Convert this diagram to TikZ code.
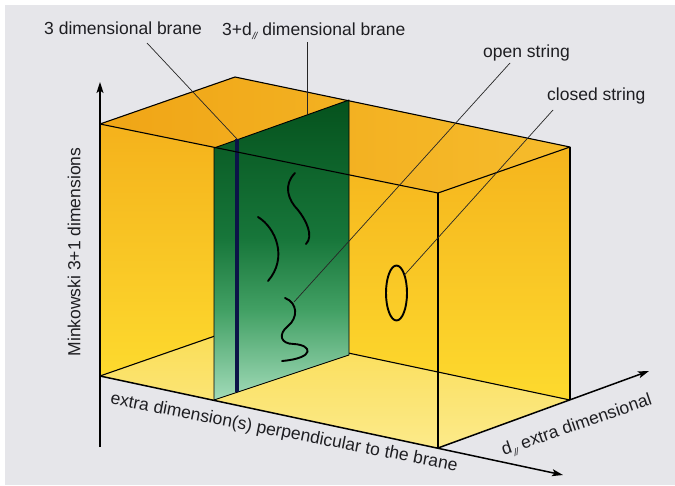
\documentclass[tikz,border=0pt]{standalone}
\usepackage{fontspec}
\setmainfont{Liberation Sans}
\usetikzlibrary{arrows.meta}
\definecolor{bg}{HTML}{E6E6EA}
\definecolor{txt}{HTML}{1E1E22}
\definecolor{wallTop}{HTML}{F3AA18}
\definecolor{wallBot}{HTML}{FDDA2E}
\definecolor{floorA}{HTML}{FADD55}
\definecolor{floorB}{HTML}{FCEA8A}
\definecolor{lidA}{HTML}{F0A516}
\definecolor{lidB}{HTML}{F6BC2C}
\definecolor{braneTop}{HTML}{05521D}
\definecolor{braneMid}{HTML}{17763A}
\definecolor{braneLow}{HTML}{42A064}
\definecolor{braneBot}{HTML}{A2DBB9}
\definecolor{navy}{HTML}{0B1448}
\pgfdeclareverticalshading{braneshade}{100bp}{color(0bp)=(braneBot); color(25bp)=(braneBot); color(40bp)=(braneLow); color(52bp)=(braneMid); color(75bp)=(braneTop); color(100bp)=(braneTop)}
\newcommand{\dpar}{d\kern0.03em\raisebox{-0.45ex}{\fontsize{10}{10}\selectfont\itshape /\kern-0.05em/}}
\begin{document}
\begin{tikzpicture}[x=1pt,y=-1pt,
  lbl/.style={font=\fontsize{17.5}{20}\selectfont, text=txt, inner sep=0pt},
  edge/.style={draw=black, line width=1.1pt, line join=round},
  leader/.style={draw=black!85, line width=0.7pt},
  axis/.style={draw=black, line width=1.5pt, -{Stealth[length=11pt,width=7pt,inset=2.5pt]}},
  strg/.style={draw=black, line width=1.9pt, line cap=round}]
\useasboundingbox (0,0) rectangle (675,485);
\fill[white] (0,0) rectangle (675,485);
\fill[bg] (5,5) rectangle (675,485);

% box corners
\coordinate (FTL) at (100,124);
\coordinate (BTL) at (235,77);
\coordinate (BTR) at (570,147);
\coordinate (FTR) at (438,193);
\coordinate (FBL) at (100,376);
\coordinate (BBL) at (235,329);
\coordinate (BBR) at (570,400);
\coordinate (FBR) at (438,448);
% brane corners
\coordinate (PTF) at (214,148);
\coordinate (PTB) at (349,100);
\coordinate (PBB) at (349,355);
\coordinate (PBF) at (214,400);

% walls
\shade[top color=wallTop, bottom color=wallBot] (FTL) -- (BTL) -- (BBL) -- (FBL) -- cycle;
\shade[top color=wallTop, bottom color=wallBot] (BTL) -- (BTR) -- (BBR) -- (BBL) -- cycle;
\shade[top color=floorA, bottom color=floorB] (FBL) -- (BBL) -- (BBR) -- (FBR) -- cycle;
\shade[left color=lidA, right color=lidB] (FTL) -- (BTL) -- (BTR) -- (FTR) -- cycle;

% back edges
\draw[edge] (FBL) -- (BBL);
\draw[edge] (BBL) -- (BBR);

% brane
\shade[shading=braneshade] (PTF) -- (PTB) -- (PBB) -- (PBF) -- cycle;
\draw[edge, line width=0.9pt] (PTF) -- (PTB) -- (PBB) -- (PBF) -- cycle;

% strings on the brane
\draw[strg] (295,173) .. controls (283,185) and (288,200) .. (298,210)
            .. controls (306,220) and (314,236) .. (306,244);
\draw[strg] (258,217) .. controls (276,228) and (288,258) .. (268,281);
\draw[strg] (285,298) .. controls (298,303) and (298,318) .. (288,326)
            .. controls (278,334) and (280,344) .. (294,344)
            .. controls (312,345) and (316,358) .. (282,361);
% closed string
\draw[strg] (396.5,293) ellipse [x radius=10.5, y radius=27.5];

% 3 dimensional brane line
\coordinate (L3t) at (237,139);
\coordinate (L3b) at (237,392);
\draw[navy, line width=3.2pt] (L3t) -- (L3b);

% front edges
\draw[edge] (FTL) -- (BTL) -- (BTR) -- (FTR) -- cycle;
\draw[edge] (FTR) -- (FBR);
\draw[edge] (BTR) -- (BBR);

% axes
\coordinate (Vb) at (100,447);
\coordinate (Vt) at (100,82);
\coordinate (Ht) at (563,475);
\coordinate (Dt) at (649,371);
\draw[axis] (Vb) -- (Vt);
\draw[axis] (FBL) -- (Ht);
\draw[axis] (FBR) -- (Dt);

% labels
\node[lbl, anchor=base] (t3) at (123,34.5) {3 dimensional brane};
\node[lbl, anchor=base west] (t3d) at (222,35) {3+\dpar\ dimensional brane};
\node[lbl, anchor=base west] (topen) at (483,57.5) {open string};
\node[lbl, anchor=base west] (tclosed) at (547,100) {closed string};
\node[lbl, rotate=90] (tmink) at (74,252) {Minkowski 3+1 dimensions};
\node[lbl, rotate=-11] (tperp) at (284,433) {extra dimension(s) perpendicular to the brane};
\node[lbl, rotate=19] (tdpar) at (577,426) {\dpar\ extra dimensional};

% leaders
\coordinate (a3) at (147,43);
\coordinate (a3d) at (307,42);
\coordinate (e3d) at (307,114);
\coordinate (aop) at (510,63);
\coordinate (eop) at (294,302);
\coordinate (acl) at (553,110);
\coordinate (ecl) at (404.5,275);
\draw[leader] (a3) -- (L3t);
\draw[leader] (a3d) -- (e3d);
\draw[leader] (aop) -- (eop);
\draw[leader] (acl) -- (ecl);
\end{tikzpicture}
\end{document}
